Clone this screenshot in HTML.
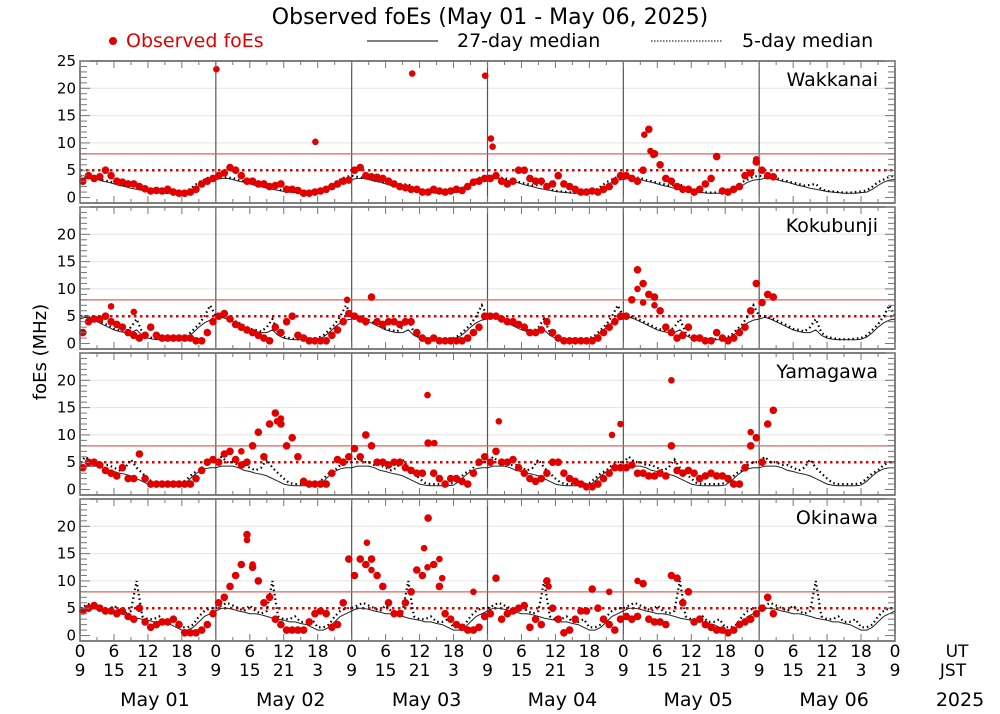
<!DOCTYPE html>
<html><head><meta charset="utf-8"><style>
html,body{margin:0;padding:0;background:#fff;}
svg{display:block;font-family:"DejaVu Sans","Liberation Sans",sans-serif;}
</style></head><body>
<svg id="chart" width="1000" height="714" viewBox="0 0 1000 714" xmlns="http://www.w3.org/2000/svg">
<text x="490" y="24" font-size="22" text-anchor="middle">Observed foEs (May 01 - May 06, 2025)</text>
<g>
<g><circle cx="113" cy="41" r="4" fill="#e00000"/><text x="126" y="47" font-size="19" fill="#e00000">Observed foEs</text></g>
<g><line x1="367" y1="41" x2="438" y2="41" stroke="#333" stroke-width="1.2"/><text x="457" y="47" font-size="19">27-day median</text></g>
<g><line x1="651" y1="41" x2="722" y2="41" stroke="#333" stroke-width="1.2" stroke-dasharray="1.5 1.5"/><text x="742" y="47" font-size="19">5-day median</text></g>
</g>
<text x="46" y="352" font-size="18" text-anchor="middle" transform="rotate(-90 46 352)">foEs (MHz)</text>
<g id="panels"></g>
<g id="xaxis"></g>
</svg>
<script>
const stations = ["Wakkanai","Kokubunji","Yamagawa","Okinawa"];
const med27_Wakkanai = [3.3,3.5,3.5,3.3,3,2.8,2.5,2.2,2,1.7,1.5,1.3,1.1,1,0.9,0.8,0.8,0.8,0.9,1,1.5,2.2,2.8,3.2];
const med5_Wakkanai = [4,3.8,3.6,3.6,3.2,3,2.7,2.5,2.2,2.3,2.5,1.5,1.2,1.1,1,0.9,0.9,1,1.1,1.3,2,2.8,3.3,3.8];
const med27_Kokubunji = [4.5,4.8,4.5,4,3.5,3,2.5,2.2,2,2,2.5,1.5,1,0.8,0.7,0.7,0.7,0.7,0.8,1.2,2,3,3.8,4.3];
const med5_Kokubunji = [5,5,4.7,4.3,3.8,3.3,2.7,2.5,2.2,3,4.5,2,1.2,1,0.8,0.8,0.8,0.9,1,1.5,2.5,3.5,5,7];
const med27_Yamagawa = [4,4.3,4.3,4.3,4,3.5,3.3,3,2.8,2.5,2,1.5,1,0.8,0.7,0.7,0.7,0.7,0.8,1.5,2.5,3.3,3.8,4];
const med5_Yamagawa = [5,6,5,5,4.5,4.5,4,3.5,4,5.5,4,3,2,1.2,1,1,1,1,1.2,2,3,3.5,4.5,5];
const med27_Okinawa = [4.5,5,5,4.8,4.5,4.3,4,4,3.8,3.5,3.2,3,2.8,2.5,2.5,2.2,2,1.5,1,1,1.5,2.5,3.5,4];
const med5_Okinawa = [5,5.5,6,5.5,5,4.5,5.5,4.5,4,4.5,10,3.5,3,3,3.5,2.5,2.5,3,1.5,1.5,2,3.5,4.5,5];

const obs_Wakkanai = [
3,4,3.5,3.8,5,4,3,2.8,2.5,2.5,2,1.6,1.2,1.3,1.2,1.5,1,0.8,0.8,1,1.5,2.5,3,3.5,
4,4.5,5.5,5,4,3,3,2.5,2.5,2,2.2,2.5,1.5,1.5,1.3,0.8,0.8,1,1.2,1.5,2,2.5,3,3.2,
5,5.5,4,3.8,3.7,3.5,3,2.5,2,1.8,1.5,1.5,1,1,1.5,1.2,1,1.2,1.5,1.3,2,2.8,3,3.5,
3.5,4,3,2.5,3,5,5,3.5,3,3,2,2.5,4,2.5,2,1.5,1,1,1.2,1,1.5,2,3,4,
4,3.5,3,5,12.5,8,6,3.5,3,2,1.5,1.5,1,1.5,2.5,3.5,7.5,1.2,1,1.5,2,4,4.5,6.5,
5,4,3.8];
const extra_Wakkanai = [[24.1,23.5],[41.6,10.2],[58.7,22.7],[71.6,22.3],[72.6,10.8],[72.9,9.3],[99.7,11.5],[100.8,8.5],[101.3,7.8],[119.5,7]];
const obs_Kokubunji = [
2,4,4.5,4.5,5,4,3.5,3,2,1.5,1,1.5,3,1.5,1,1,1,1,1,1,0.5,0.5,2,4,
5,5.5,4.5,3.5,3,2.5,2,1.5,1,0.5,3,2,4,5,1.5,1,0.5,0.5,0.5,0.5,1.5,2.5,4,5.5,
5,4.5,4,8.5,4,3.5,4,4,3.5,4,4,2,1,0.5,1,0.5,0.5,0.5,0.5,0.5,1,2,3,5,
5,5,4.5,4,4,3.5,3,2,2,2.5,4,2,1,0.5,0.5,0.5,0.5,0.5,0.5,1,2,3,4,5,
5,8,13.5,11,9,8.5,6,3,2,1,1.5,3,1,1,0.5,0.5,2,1,0.5,1,2,3,6,11,
7.5,9,8.5];
const extra_Kokubunji = [[5.5,6.8],[9.5,5.8],[47.2,8],[98.5,10],[99.5,7.5],[101.5,7]];
const obs_Yamagawa = [
4,5,5,4.5,3.5,3,2.5,4,2,2,6.5,2,1,1,1,1,1,1,1,1,2,3.5,5,5.5,
5,6.5,7,5.5,4.5,5,8,10.5,6,12,14,12,8,9.5,6,1.5,1,1,1,1,3,5.5,5,6,
7.5,6,10,8,5,5,4.5,5,5,4,3.5,3,3,8.5,3,2,1,2,2,1.5,1,3,5,6,
5,7,5,5,5.5,4,3,2,1.5,2,3,5,5,3,2,1.5,1,0.5,0.5,1,2,3,4,4,
4,4.5,3,3,2.5,2.5,3,2.5,8,3.5,3,3.5,3,2,2.5,3,2.5,2.5,2,1,1,4,8,9.5,
5,12,14.5];
const extra_Yamagawa = [[34.8,12.5],[35.5,13],[28.5,7],[61.4,17.3],[62.6,8.5],[74,12.5],[94,10],[95.5,12],[104.5,20],[118.5,10.5]];
const obs_Okinawa = [
4.5,5,5.5,5,4.5,4.5,4,4.5,3.5,3,5,2.5,1.5,2,2.5,2.5,3,2,0.5,0.5,0.5,1,2,4,
6,7,9,11,13,18.5,12.5,10,6,7,3,2,1,1,1,1,2.5,4,4.5,4,1.5,2,6,14,
11,14,13,14,11,9,6,4,4,6,8,12,11,21.5,13,9,4,3,2,1.5,1,1,1.5,3.5,
4,10.5,3,4,4.5,5,5.5,1.5,3,2,10,5,3,0.5,1,3,4.5,4.5,8.5,5,3,2,1,3,
3.5,3,3.5,9.5,3,2.5,2.5,2,11,10.5,6,8,2.5,3,2,1.5,1,1,0.5,1,2,2.5,3,4,
5,7,4];
const extra_Okinawa = [[29.5,17.5],[30.5,13],[50.7,17],[51.5,12],[60.8,16],[61.4,12.5],[63.5,14],[64,10.5],[69.5,8],[82.8,9],[93.5,8],[98.5,10],[107.5,8]];

const dayLabels = ["May 01","May 02","May 03","May 04","May 05","May 06"];
const utLabels = ["0","6","12","18"];
const jstLabels = ["9","15","21","3"];
const yTicks = [0,5,10,15,20,25];

const NS="http://www.w3.org/2000/svg";
const X0=80, X1=895, PH=142, tops=[61,207,353,499], YMIN=-1, YMAX=25;
const xs = h => X0 + h*(X1-X0)/144;
function mk(tag, attrs, parent){const e=document.createElementNS(NS,tag);for(const k in attrs)e.setAttribute(k,attrs[k]);parent.appendChild(e);return e;}
const panelsG=document.getElementById('panels');
const dataMap={
Wakkanai:[obs_Wakkanai,extra_Wakkanai,med27_Wakkanai,med5_Wakkanai],
Kokubunji:[obs_Kokubunji,extra_Kokubunji,med27_Kokubunji,med5_Kokubunji],
Yamagawa:[obs_Yamagawa,extra_Yamagawa,med27_Yamagawa,med5_Yamagawa],
Okinawa:[obs_Okinawa,extra_Okinawa,med27_Okinawa,med5_Okinawa]};
stations.forEach((st,i)=>{
  const top=tops[i];
  const ys = v => top + (YMAX-v)*PH/(YMAX-YMIN);
  const g=mk('g',{},panelsG);
  
  
  [10,15,20].forEach(v=>{mk('line',{x1:X0,x2:X1,y1:ys(v),y2:ys(v),stroke:'#e4e4e4','stroke-width':1},g);});
  for(let d=1;d<6;d++){const l=mk('line',{x1:xs(d*24),x2:xs(d*24),y1:top,y2:top+PH,stroke:'#555','stroke-width':1.2},g);
    
    }
  const t8=mk('line',{x1:X0,x2:X1,y1:ys(8),y2:ys(8),stroke:'#e06060','stroke-width':1.2},g);
  
  
  const t5=mk('line',{x1:X0,x2:X1,y1:ys(5),y2:ys(5),stroke:'#e00000','stroke-width':2.5,'stroke-dasharray':'2.5 3.5'},g);
  
  
  const [obs,extra,m27,m5]=dataMap[st];
  let p27='',p5='';
  for(let h=0;h<=144;h++){const k=h%24;p27+=(h?'L':'M')+xs(h).toFixed(1)+' '+ys(m27[k]).toFixed(1);p5+=(h?'L':'M')+xs(h).toFixed(1)+' '+ys(m5[k]).toFixed(1);}
  const l27=mk('path',{d:p27,fill:'none',stroke:'#222','stroke-width':1},g);
  
  
  const l5=mk('path',{d:p5,fill:'none',stroke:'#000','stroke-width':2.2,'stroke-dasharray':'1.5 3'},g);
  
  
  const og=mk('g',{fill:'#e00000'},g);
  
  
  obs.forEach((v,h)=>{if(v==null)return;const c=mk('circle',{cx:xs(h+0.5).toFixed(1),cy:ys(v).toFixed(1),r:3.8},og);
    
    });
  extra.forEach(([h,v])=>{const c=mk('circle',{cx:xs(h).toFixed(1),cy:ys(v).toFixed(1),r:3.3},og);
    
    });
  mk('rect',{x:X0,y:top,width:X1-X0,height:PH,fill:'none',stroke:'#555','stroke-width':1.5},g);
  for(let v=0;v<=25;v++){const long=v%5==0;const w=long?10:7;
    mk('line',{x1:X0,x2:X0+w,y1:ys(v),y2:ys(v),stroke:'#777','stroke-width':1},g);
    mk('line',{x1:X1-w,x2:X1,y1:ys(v),y2:ys(v),stroke:'#777','stroke-width':1},g);}
  yTicks.forEach(v=>{if(v==25&&i>0)return;const t=mk('text',{x:76,y:ys(v)+5,'font-size':15,'text-anchor':'end'},g);t.textContent=v;
    
    });
  for(let h=0;h<=144;h+=3){const w=h%6==0?7:4;
    mk('line',{x1:xs(h),x2:xs(h),y1:top,y2:top+w,stroke:'#777'},g);
    mk('line',{x1:xs(h),x2:xs(h),y1:top+PH-w,y2:top+PH,stroke:'#777'},g);}
  const nm=mk('text',{x:878,y:top+25,'font-size':19,'text-anchor':'end'},g);nm.textContent=st;
  
  
});
const xg=document.getElementById('xaxis');
for(let d=0;d<=6;d++){for(let j=0;j<4;j++){if(d==6&&j>0)break;const h=d*24+j*6;
  const a=mk('text',{x:xs(h),y:657,'font-size':17,'text-anchor':'middle'},xg);a.textContent=utLabels[j];
  
  
  const b=mk('text',{x:xs(h),y:676,'font-size':17,'text-anchor':'middle'},xg);b.textContent=jstLabels[j];
  
  }}
dayLabels.forEach((s,d)=>{const t=mk('text',{x:xs(d*24+12)+7,y:706,'font-size':19,'text-anchor':'middle'},xg);t.textContent=s;
  
  });
[['UT',957,657],['JST',953,676],['2025',960,706]].forEach(([s,x,y])=>{const t=mk('text',{x:x,y:y,'font-size':y>690?19:17,'text-anchor':'middle'},xg);t.textContent=s;
  
  });
</script>
</body></html>
